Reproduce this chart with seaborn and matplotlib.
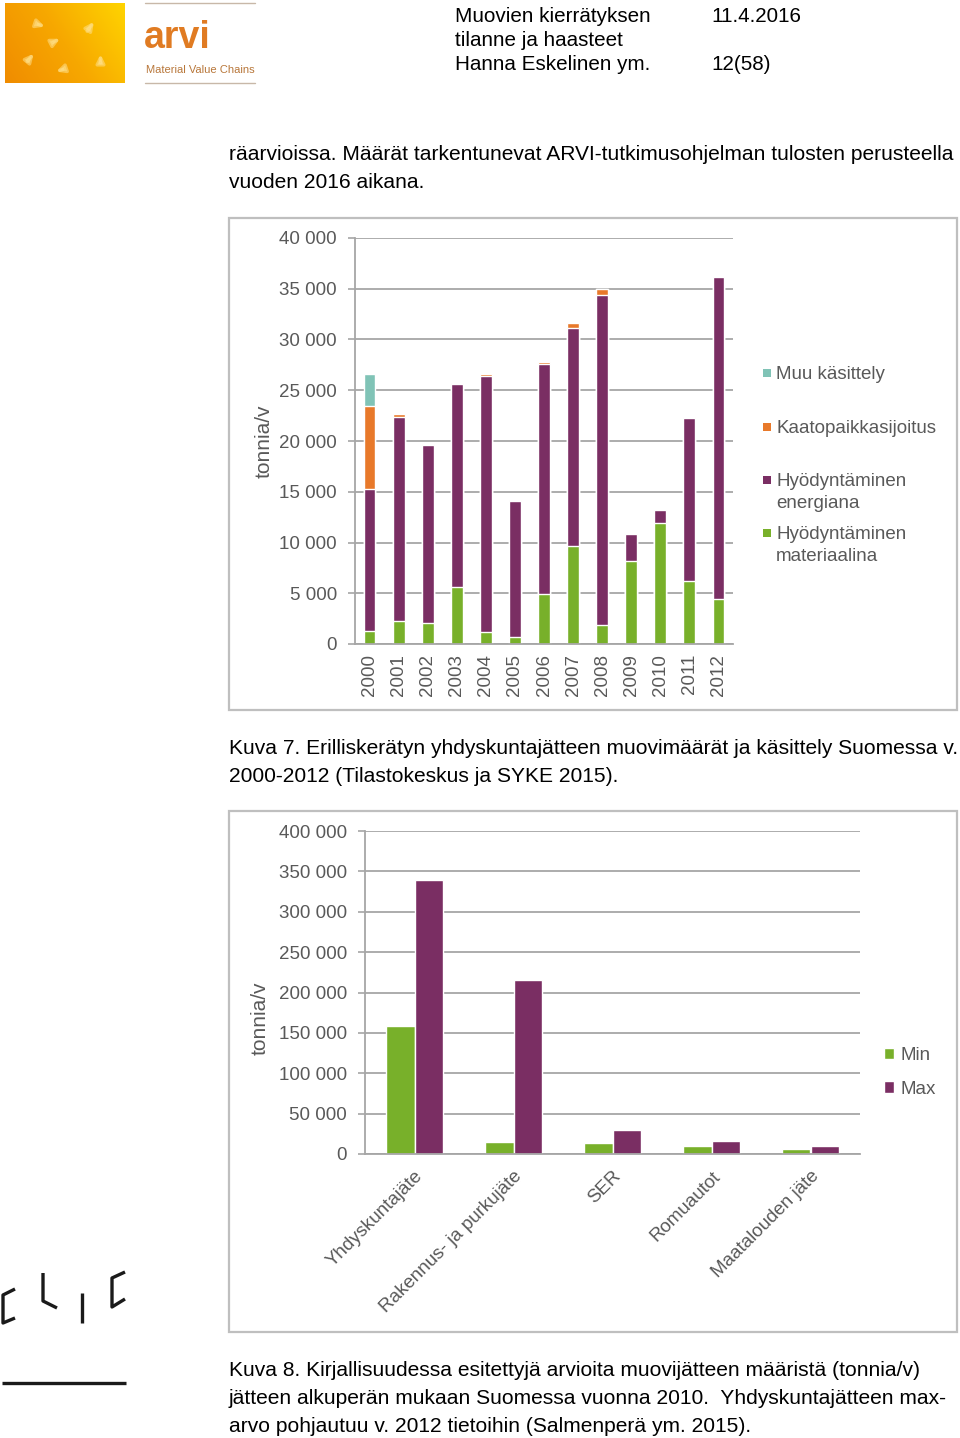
import numpy as np
import pandas as pd
import matplotlib
matplotlib.use('Agg')
import matplotlib.pyplot as plt
import matplotlib.patches as mpatches
import matplotlib.lines as mlines
from matplotlib.ticker import FuncFormatter
import seaborn as sns

# ------------------------------------------------------
# DATA
# ------------------------------------------------------

years = ['2000', '2001', '2002', '2003', '2004', '2005', '2006',
         '2007', '2008', '2009', '2010', '2011', '2012']
materiaalina = [1250, 2300, 2070, 5600, 1150, 690, 4900, 9700, 1880, 8220, 11970, 6250, 4400]
energiana = [13980, 20070, 17500, 20050, 25230, 13390, 22700, 21450, 32500, 2640, 1250, 16050, 31780]
kaatopaikka = [8220, 260, 130, 80, 260, 130, 230, 490, 590, 0, 0, 50, 0]
muu = [3190, 0, 0, 0, 0, 0, 0, 0, 0, 0, 0, 0, 0]

sources = ['Yhdyskuntajäte', 'Rakennus- ja purkujäte', 'SER', 'Romuautot', 'Maatalouden jäte']
min_vals = [159000, 15300, 14000, 10300, 6200]
max_vals = [339500, 215000, 29300, 16100, 9500]

GREEN = '#78B02A'
PURPLE = '#7A2E63'
ORANGE = '#E8792A'
TEAL = '#80C3B6'
GRID = '#A6A6A6'
TXT = '#595959'

sns.set_theme(style='white')
plt.rcParams['font.family'] = ['Liberation Sans', 'DejaVu Sans']

W, H = 960, 1438
fig = plt.figure(figsize=(W / 100, H / 100), dpi=100)


def fx(x):
    return x / W


def fy(y):
    return 1 - y / H


def ax_rect(left, top, right, bottom):
    return [fx(left), fy(bottom), (right - left) / W, (bottom - top) / H]


def thousands(v, pos):
    return f'{int(v):,}'.replace(',', ' ')


def style_axes(ax):
    sns.despine(ax=ax, top=True, right=True)
    for s in ['left', 'bottom']:
        ax.spines[s].set_color(GRID)
        ax.spines[s].set_linewidth(1.3)
    ax.yaxis.grid(True, color=GRID, linewidth=1.3)
    ax.set_axisbelow(True)
    ax.tick_params(axis='y', which='major', left=True, length=5, width=1.2,
                   color=GRID, labelsize=13.5, labelcolor=TXT, pad=8)
    ax.tick_params(axis='x', bottom=False, labelsize=13.5, labelcolor=TXT)
    ax.yaxis.set_major_formatter(FuncFormatter(thousands))
    ax.set_xlabel('')


# ------------------------------------------------------
# Header
# ------------------------------------------------------

logo = fig.add_axes(ax_rect(5, 3, 125, 83))
gx, gy = np.meshgrid(np.linspace(0, 1, 120), np.linspace(0, 1, 80))
grad = (gx * 0.7 + (1 - gy) * 0.3)
cmap = matplotlib.colors.LinearSegmentedColormap.from_list('arvi', ['#F08C00', '#F7A800', '#FFD400'])
logo.imshow(grad, cmap=cmap, aspect='auto', origin='upper')
for (x0, y0, dx, dy) in [(20, 60, 10, -12), (45, 40, 12, -6), (80, 30, 10, -14), (30, 20, 12, 4), (95, 62, 0, -14), (60, 65, -12, 4)]:
    logo.annotate('', xy=(x0 + dx, y0 + dy), xytext=(x0, y0),
                  arrowprops=dict(arrowstyle='-|>', color='#FFE08A', lw=2.5, alpha=0.55))
logo.set_axis_off()

fig.add_artist(mlines.Line2D([fx(145), fx(255)], [fy(3), fy(3)], color='#C8B8A8', lw=1))
fig.add_artist(mlines.Line2D([fx(145), fx(255)], [fy(83), fy(83)], color='#C8B8A8', lw=1))
fig.text(fx(144), fy(38), 'arvi', fontsize=27, fontweight='bold', color='#E07B22', va='center', ha='left')
fig.text(fx(146), fy(70), 'Material Value Chains', fontsize=8, color='#B8773A', va='center', ha='left')

for txt, y in [('Muovien kierrätyksen', 16), ('tilanne ja haasteet', 40), ('Hanna Eskelinen ym.', 64)]:
    fig.text(fx(455), fy(y), txt, fontsize=14.9, color='black', va='center', ha='left')
fig.text(fx(711), fy(16), '11.4.2016', fontsize=14.9, color='black', va='center', ha='left')
fig.text(fx(711), fy(64), '12(58)', fontsize=14.9, color='black', va='center', ha='left')

# Body text
body = [
    ('räarvioissa. Määrät tarkentunevat ARVI-tutkimusohjelman tulosten perusteella', 155),
    ('vuoden 2016 aikana.', 183),
    ('Kuva 7. Erilliskerätyn yhdyskuntajätteen muovimäärät ja käsittely Suomessa v.', 748),
    ('2000-2012 (Tilastokeskus ja SYKE 2015).', 776),
    ('Kuva 8. Kirjallisuudessa esitettyjä arvioita muovijätteen määristä (tonnia/v)', 1370),
    ('jätteen alkuperän mukaan Suomessa vuonna 2010.  Yhdyskuntajätteen max-', 1398),
    ('arvo pohjautuu v. 2012 tietoihin (Salmenperä ym. 2015).', 1426),
]
for txt, y in body:
    fig.text(fx(229), fy(y), txt, fontsize=15.1, color='black', va='center', ha='left')

# Chart frames
for top, bottom in [(218, 710), (811, 1332)]:
    fig.add_artist(mpatches.Rectangle((fx(229), fy(bottom)), fx(957) - fx(229), fy(top) - fy(bottom),
                                      transform=fig.transFigure, fill=False, edgecolor='#BFBFBF', lw=1.6))

# ------------------------------------------------------
# Kuva 7: stacked bars
# ------------------------------------------------------

ax1 = fig.add_axes(ax_rect(355, 238, 733, 644))
df1 = pd.DataFrame({'Vuosi': years, 'materiaalina': materiaalina, 'energiana': energiana,
                    'kaatopaikka': kaatopaikka, 'muu': muu})
layers = [('materiaalina', GREEN), ('energiana', PURPLE), ('kaatopaikka', ORANGE), ('muu', TEAL)]
cum = df1[[l for l, _ in layers]].cumsum(axis=1)
# Draw from the top of the stack down so lower layers cover the upper ones
for name, col in reversed(layers):
    sns.barplot(x=df1['Vuosi'], y=cum[name], color=col, width=0.41, saturation=1, ax=ax1)
ax1.set_ylim(0, 40000)
ax1.set_yticks(range(0, 40001, 5000))
style_axes(ax1)
ax1.tick_params(axis='x', labelrotation=90, pad=1)
ax1.set_ylabel('tonnia/v', fontsize=15, color=TXT)
ax1.yaxis.set_label_coords(-0.214, 0.5)

# Legend (entries spaced evenly by first line, as on the page)
leg1 = [('Muu käsittely', TEAL, 373), ('Kaatopaikkasijoitus', ORANGE, 427),
        ('Hyödyntäminen\nenergiana', PURPLE, 480), ('Hyödyntäminen\nmateriaalina', GREEN, 533)]
for lab, col, y in leg1:
    fig.add_artist(mpatches.Rectangle((fx(763), fy(y + 4)), 8 / W, 8 / H, transform=fig.transFigure,
                                      facecolor=col, edgecolor='none'))
    fig.text(fx(776), fy(y - 7), lab, fontsize=13.5, color=TXT, va='top', ha='left', linespacing=1.38)

# ------------------------------------------------------
# Kuva 8: grouped bars
# ------------------------------------------------------

ax2 = fig.add_axes(ax_rect(365, 831, 860, 1154))
df2 = pd.DataFrame({'Lähde': sources * 2,
                    'Arvo': min_vals + max_vals,
                    'Tyyppi': ['Min'] * len(sources) + ['Max'] * len(sources)})
sns.barplot(data=df2, x='Lähde', y='Arvo', hue='Tyyppi', palette=[GREEN, PURPLE],
            width=0.57, saturation=1, ax=ax2)
ax2.set_ylim(0, 400000)
ax2.set_yticks(range(0, 400001, 50000))
style_axes(ax2)
ax2.tick_params(axis='x', pad=4)
for lab in ax2.get_xticklabels():
    lab.set_rotation(45)
    lab.set_ha('right')
    lab.set_va('top')
    lab.set_rotation_mode('anchor')
ax2.set_ylabel('tonnia/v', fontsize=15, color=TXT)
ax2.yaxis.set_label_coords(-0.192, 0.42)
handles, labels = ax2.get_legend_handles_labels()
ax2.get_legend().remove()
fig.legend(handles, labels, loc='upper left', bbox_to_anchor=(fx(884), fy(1047)), frameon=False,
           fontsize=13.5, labelcolor=TXT, handlelength=0.55, handleheight=0.55,
           handletextpad=0.35, labelspacing=0.88, borderpad=0, borderaxespad=0)

# ------------------------------------------------------
# CLIC logo bottom left
# ------------------------------------------------------

strokes = [[(15, 1289), (3, 1295), (3, 1323), (15, 1318)],
           [(43, 1273), (43, 1301), (57, 1308)],
           [(82, 1293), (82, 1323)],
           [(125, 1272), (112, 1278), (112, 1307), (125, 1299)],
           [(2, 1383), (126, 1383)]]
for s in strokes:
    xs = [fx(p[0]) for p in s]
    ys = [fy(p[1]) for p in s]
    fig.add_artist(mlines.Line2D(xs, ys, color='#1A1A1A', lw=2.4, solid_capstyle='butt'))

fig.savefig('out.png', dpi=100)
